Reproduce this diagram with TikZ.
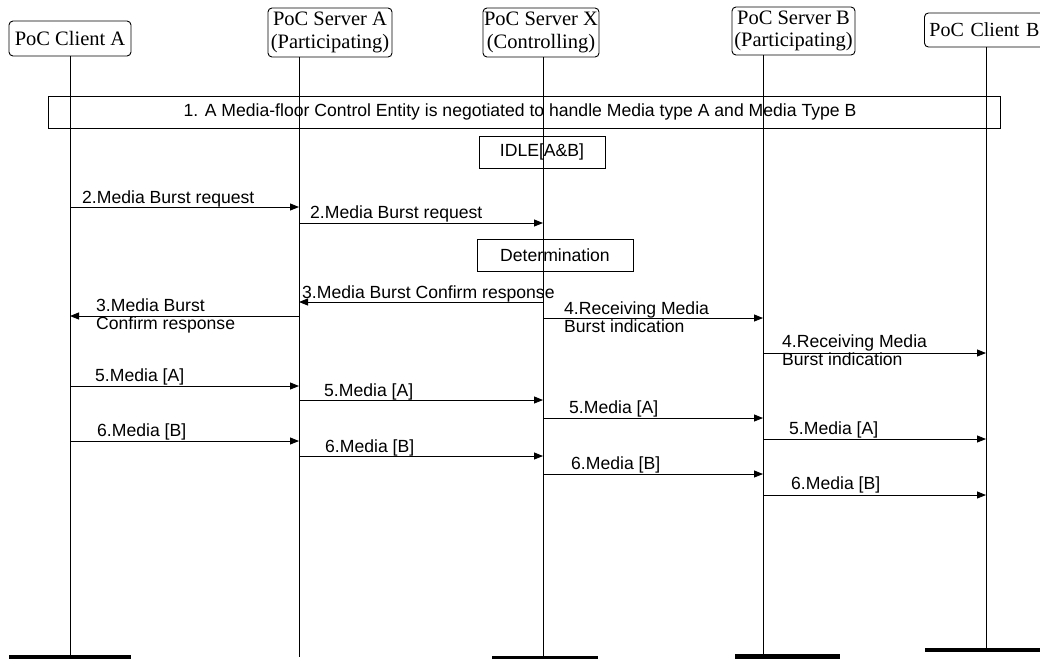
\documentclass[tikz,border=0pt]{standalone}
\usepackage{fontspec}
\setmainfont{Liberation Serif}
\setsansfont{Liberation Sans}
\usetikzlibrary{arrows.meta}
\begin{document}
\begin{tikzpicture}[x=1pt,y=1pt,
  hdr/.style={draw, rounded corners=4pt, line width=0.9pt, inner sep=0pt, align=center,
    font=\fontsize{20.5}{22.5}\selectfont},
  sbox/.style={draw, line width=0.9pt, inner sep=0pt, font=\sffamily\fontsize{17.6}{18.5}\selectfont},
  lbl/.style={font=\sffamily\fontsize{17.6}{18.5}\selectfont, inner sep=0pt, anchor=base west},
  lbltwo/.style={font=\sffamily\fontsize{17.6}{18.5}\selectfont, inner sep=0pt, anchor=north west, align=left},
  msg/.style={line width=0.9pt, -{Triangle[length=9pt,width=7pt]}},
  life/.style={line width=0.9pt},
  bar/.style={fill=black, draw=none}]
\useasboundingbox (0,0) rectangle (1040,-659);

% header boxes
\node[hdr, minimum width=122pt, minimum height=35pt] (ca) at (70,-38.5) {PoC Client A};
\node[hdr, minimum width=124pt, minimum height=49pt] (sa) at (330,-32.5) {PoC Server A\\(Participating)};
\node[hdr, minimum width=116pt, minimum height=49pt] (sx) at (541,-32.5) {PoC Server X\\(Controlling)};
\node[hdr, minimum width=123pt, minimum height=48pt] (sb) at (793.5,-31) {PoC Server B\\(Participating)};
\node[hdr, font=\fontsize{20}{22.5}\selectfont, inner xsep=5pt, text width=112pt, align=left, minimum height=34pt, anchor=west] (cb) at (924,-30) {PoC Client B};

% boxes
\node[sbox, minimum width=952pt, minimum height=32pt] (neg) at (524,-112) {};
\node[font=\sffamily\fontsize{17.6}{18.5}\selectfont, inner sep=0pt] (negt) at (520,-112) {1. A Media-floor Control Entity is negotiated to handle Media type A and Media Type B};
\node[sbox, minimum width=126pt, minimum height=32pt] (idle) at (542,-152) {IDLE[A\&B]};
\node[sbox, minimum width=156pt, minimum height=32pt] (det) at (555,-255) {Determination};

% lifelines
\coordinate (lca) at (70,-56);
\coordinate (lsa) at (299,-57);
\coordinate (lsx) at (543,-57);
\coordinate (lsb) at (763,-55);
\coordinate (lcb) at (986,-47);
\coordinate (eca) at (70,-655);
\coordinate (esa) at (299,-657);
\coordinate (esx) at (543,-656);
\coordinate (esb) at (763,-654);
\coordinate (ecb) at (986,-648);
\draw[life] (lca) -- (eca);
\draw[life] (lsa) -- (esa);
\draw[life] (lsx) -- (esx);
\draw[life] (lsb) -- (esb);
\draw[life] (lcb) -- (ecb);

% end bars
\fill[bar] (9,-655) rectangle (131,-659);
\fill[bar] (492,-656) rectangle (598,-659);
\fill[bar] (735,-654) rectangle (840,-659);
\fill[bar] (925,-648) rectangle (1040,-652);

% messages
\draw[msg] (lca |- 0,-207) -- (lsa |- 0,-207);
\node[lbl] (m2a) at (82,-203) {2.Media Burst request};
\draw[msg] (lsa |- 0,-223) -- (lsx |- 0,-223);
\node[lbl] (m2b) at (310,-218) {2.Media Burst request};

\draw[msg] (lsx |- 0,-302) -- (lsa |- 0,-302);
\node[lbl] (m3a) at (302,-298) {3.Media Burst Confirm response};
\draw[msg] (lsa |- 0,-316) -- (lca |- 0,-316);
\node[lbltwo] (m3b) at (96,-298.5) {3.Media Burst\\Confirm response};

\draw[msg] (lsx |- 0,-318) -- (lsb |- 0,-318);
\node[lbltwo] (m4a) at (564,-301.5) {4.Receiving Media\\Burst indication};
\draw[msg] (lsb |- 0,-353) -- (lcb |- 0,-353);
\node[lbltwo] (m4b) at (782,-334.5) {4.Receiving Media\\Burst indication};

\draw[msg] (lca |- 0,-386) -- (lsa |- 0,-386);
\node[lbl] (m5a) at (95,-381) {5.Media [A]};
\draw[msg] (lsa |- 0,-400) -- (lsx |- 0,-400);
\node[lbl] (m5b) at (324,-396) {5.Media [A]};
\draw[msg] (lsx |- 0,-418) -- (lsb |- 0,-418);
\node[lbl] (m5c) at (569,-413) {5.Media [A]};
\draw[msg] (lsb |- 0,-439) -- (lcb |- 0,-439);
\node[lbl] (m5d) at (789,-434) {5.Media [A]};

\draw[msg] (lca |- 0,-441) -- (lsa |- 0,-441);
\node[lbl] (m6a) at (97,-436) {6.Media [B]};
\draw[msg] (lsa |- 0,-456) -- (lsx |- 0,-456);
\node[lbl] (m6b) at (325,-452) {6.Media [B]};
\draw[msg] (lsx |- 0,-474) -- (lsb |- 0,-474);
\node[lbl] (m6c) at (571,-469) {6.Media [B]};
\draw[msg] (lsb |- 0,-495) -- (lcb |- 0,-495);
\node[lbl] (m6d) at (791,-489) {6.Media [B]};
\end{tikzpicture}
\end{document}
